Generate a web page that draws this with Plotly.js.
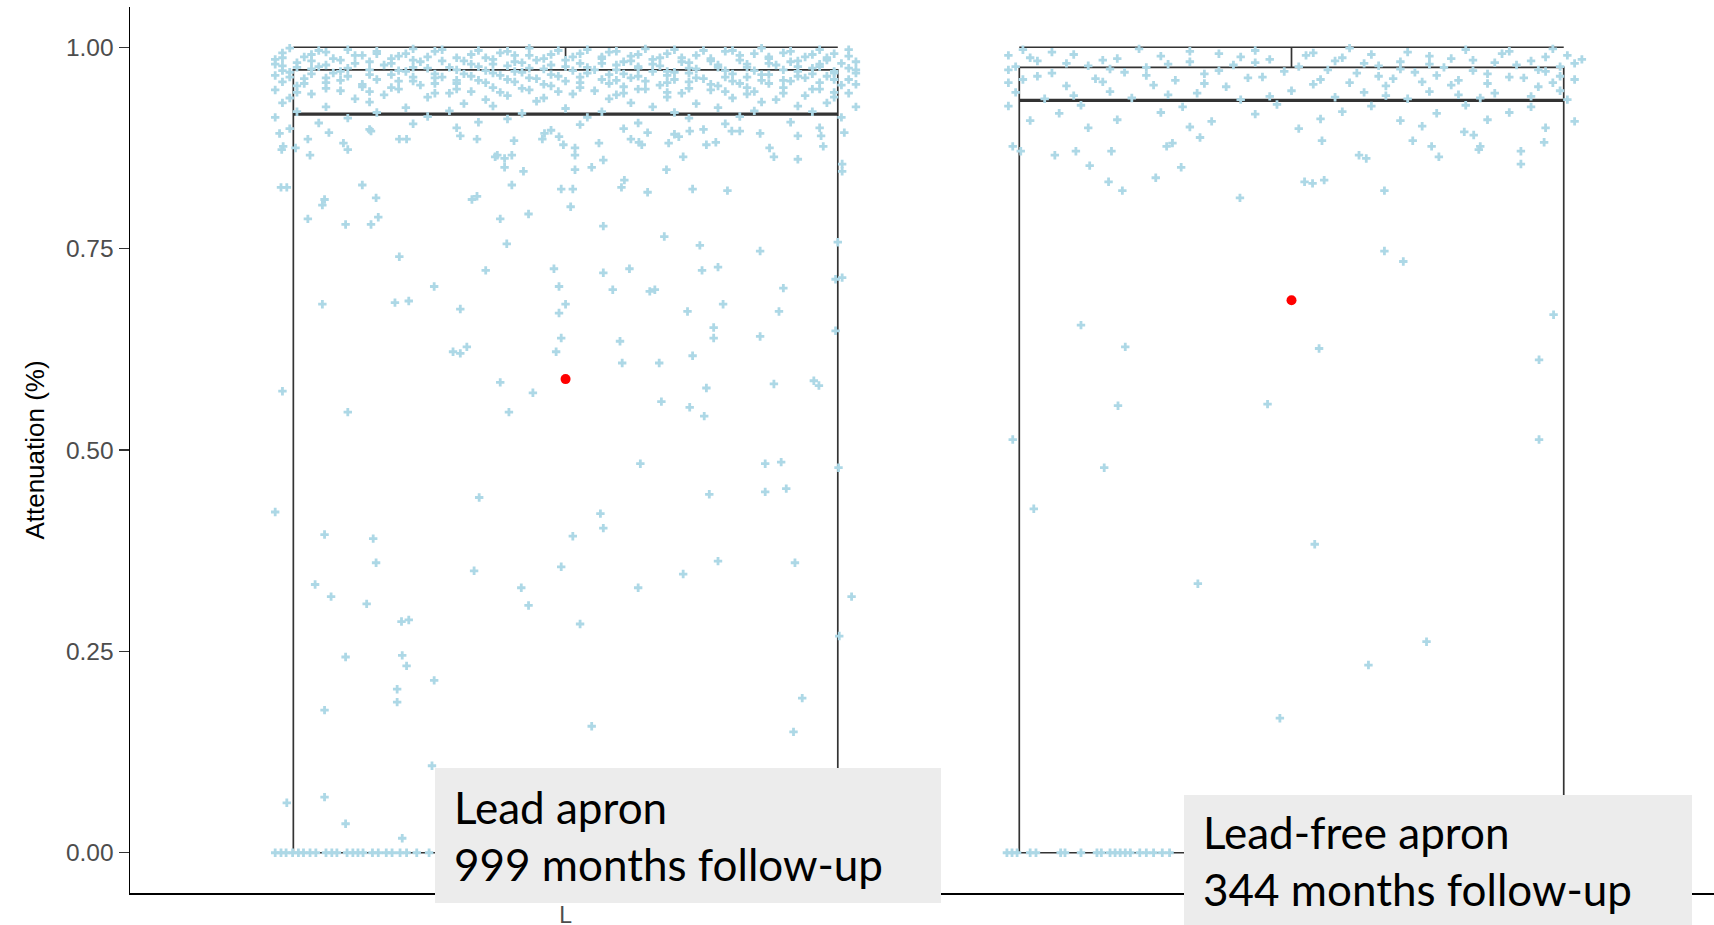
<!DOCTYPE html>
<html>
<head>
<meta charset="utf-8">
<script src="https://cdn.plot.ly/plotly-3.0.1.min.js"></script>
<style>
  html, body { margin: 0; padding: 0; background: #ffffff; }
  #chart { width: 1714px; height: 925px; }
</style>
</head>
<body>
<div id="chart"></div>
<script>
// ---------------- DATA ----------------
const categories = ["L", "LF"];
const visibleTickLabels = ["L", ""];   // the second category label is hidden behind its caption box
const positions = [1, 2];
const labels = ["Lead apron<br>999 months follow-up", "Lead-free apron<br>344 months follow-up"];

// box statistics
const q1 = [0.0, 0.0];
const medians = [0.917, 0.934];
const q3 = [0.972, 0.975];
const lowerWhisker = [0.0, 0.0];
const upperWhisker = [1.0, 1.0];
const means = [0.588, 0.686];

// jittered observations, group L : horizontal jitter offset and attenuation value
const L_jitter = [
  -0.38,-0.30,-0.21,-0.12,-0.05,0.03,0.11,0.19,0.27,0.35,
  -0.39,-0.33,-0.26,-0.18,-0.09,-0.02,0.06,0.14,0.22,0.30,0.37,
  -0.36,-0.28,-0.23,-0.15,-0.07,0.01,0.09,0.16,0.24,0.33,0.39,
  -0.40,-0.31,-0.24,-0.17,-0.10,-0.04,0.05,0.12,0.20,0.28,0.36,
  -0.37,-0.29,-0.20,-0.13,-0.06,0.02,0.08,0.17,0.25,0.31,0.38,
  -0.39,-0.34,-0.25,-0.16,-0.08,0.00,0.07,0.13,0.21,0.29,0.35,
  -0.35,-0.27,-0.19,-0.11,-0.03,0.04,0.10,0.18,0.26,0.34,0.40,
  -0.38,-0.32,-0.22,-0.14,-0.06,0.03,0.12,0.15,0.23,0.32,0.37,
  -0.40,-0.30,-0.24,-0.17,-0.09,-0.01,0.06,0.14,0.22,0.28,0.36,
  -0.36,-0.26,-0.18,-0.12,-0.04,0.05,0.09,0.19,0.27,0.33,0.39,
  -0.39,-0.33,-0.21,-0.15,-0.07,0.02,0.11,0.17,0.24,0.31,
  -0.37,-0.28,-0.20,-0.10,-0.02,0.08,0.13,0.21,0.30,0.38,
  -0.40,-0.31,-0.23,-0.13,-0.05,0.04,0.10,0.20,0.26,0.35,
  -0.35,-0.25,-0.16,-0.08,0.01,0.07,0.16,0.25,0.33,0.39,
  -0.38,-0.29,-0.19,-0.11,-0.03,0.06,0.14,0.23,0.29,0.37,
  -0.39,-0.27,-0.14,-0.04,0.09,0.18,0.27,0.36,
  -0.33,-0.22,-0.10,0.00,0.12,0.21,0.32,0.40,
  -0.37,-0.26,-0.16,-0.06,0.05,0.15,0.26,0.34,
  -0.40,-0.30,-0.19,-0.08,0.03,0.17,0.24,0.38,
  -0.34,-0.21,-0.12,0.02,0.10,0.22,0.31,
  -0.38,-0.27,-0.15,-0.02,0.08,0.19,0.35,
  -0.34,-0.26,-0.17,-0.08,-0.01,0.07,0.15,0.23,0.31,0.39,
  -0.35,-0.29,-0.22,-0.13,-0.05,0.02,0.10,0.18,0.26,0.34,
  -0.39,-0.32,-0.19,-0.11,-0.03,0.05,0.13,0.20,0.28,0.36,
  -0.35,-0.27,-0.21,-0.14,-0.07,0.00,0.09,0.16,0.24,0.32,0.40,
  -0.40,-0.33,-0.24,-0.10,-0.02,0.05,0.12,0.21,0.28,0.35,
  -0.37,-0.30,-0.21,-0.12,-0.05,0.03,0.10,0.17,0.25,0.32,0.39,
  -0.39,-0.31,-0.23,-0.15,-0.07,0.01,0.07,0.14,0.22,0.30,0.37,
  -0.35,-0.27,-0.18,-0.10,-0.02,0.08,0.17,0.27,0.34,0.40,
  -0.38,-0.33,-0.21,-0.13,-0.05,0.02,0.10,0.18,0.25,0.32,
  -0.31,-0.23,-0.15,-0.08,0.00,0.07,0.15,0.23,0.30,0.37,
  -0.36,-0.28,-0.18,-0.11,-0.03,0.06,0.14,0.20,0.28,0.35,0.40,
  -0.33,-0.24,-0.15,-0.06,0.02,0.11,0.17,0.25,0.34,
  -0.37,-0.27,-0.18,-0.09,-0.01,0.08,0.14,0.22,0.30,0.37,
  -0.394,-0.355,-0.326,-0.306,-0.300,-0.268,-0.229,-0.219,-0.145,-0.122,
  -0.071,-0.032,-0.029,-0.009,-0.003,0.013,0.046,0.090,0.101,0.105,
  0.113,0.142,0.150,0.156,0.171,0.194,0.207,0.229,0.240,0.268,
  0.281,0.287,0.320,0.320,0.352,0.355,0.381,0.381,0.384,-0.389,
  -0.391,-0.372,-0.352,-0.097,-0.094,-0.084,-0.074,-0.084,-0.058,0.013,
  0.013,0.036,0.052,0.139,0.162,
  -0.392,-0.384,-0.280,-0.332,-0.335,-0.261,-0.129,-0.122,-0.074,-0.006,
  0.010,0.007,0.081,0.077,0.113,0.175,0.223,-0.355,-0.303,-0.268,
  -0.258,-0.090,-0.051,0.052,0.136,0.185,0.268,-0.081,-0.229,0.375,
  -0.110,-0.016,0.052,0.088,0.188,0.210,0.372,0.381,-0.181,-0.009,
  0.065,0.116,0.123,0.300,-0.335,-0.235,-0.216,-0.145,0.000,-0.009,
  0.168,0.217,0.294,0.204,0.204,0.268,0.372,-0.006,0.075,-0.155,
  -0.145,-0.136,-0.013,0.078,0.129,0.175,-0.090,-0.045,0.194,0.287,
  0.342,0.349,-0.390,-0.300,-0.078,0.132,0.171,0.191,0.103,0.275,
  0.297,0.376,-0.119,0.198,0.275,0.304,-0.400,0.048,0.052,
  -0.332,-0.265,-0.261,0.010,-0.126,-0.006,0.162,0.210,0.316,-0.345,
  -0.323,-0.274,-0.061,-0.051,0.100,0.394,-0.226,-0.216,0.020,0.377,
  -0.303,-0.225,-0.219,-0.181,-0.232,-0.232,-0.332,0.326,0.036,0.314,
  -0.184,-0.384,-0.332,-0.303,-0.225,
  -0.400,-0.392,-0.385,-0.376,-0.368,-0.361,-0.352,-0.344,-0.330,-0.322,
  -0.315,-0.301,-0.293,-0.286,-0.279,-0.266,-0.258,-0.247,-0.239,-0.228,
  -0.219,-0.205,-0.188,-0.172,-0.150,-0.131,-0.104,-0.080,-0.052,-0.031,
  0.004,0.027,0.061,0.093,0.118,0.146,0.177,0.203,0.238,0.264,
  0.291,0.322,0.357,0.389
];
const L_value = [
  0.999,0.997,0.998,0.996,0.999,0.997,0.998,0.996,0.999,0.997,
  0.993,0.994,0.992,0.995,0.993,0.991,0.994,0.992,0.995,0.993,0.992,
  0.988,0.990,0.989,0.987,0.990,0.988,0.989,0.987,0.990,0.988,0.989,
  0.985,0.984,0.986,0.983,0.985,0.984,0.986,0.985,0.983,0.986,0.984,
  0.981,0.980,0.982,0.979,0.981,0.980,0.982,0.981,0.979,0.982,0.980,
  0.977,0.976,0.978,0.975,0.977,0.976,0.978,0.977,0.975,0.978,0.976,
  0.973,0.972,0.974,0.971,0.973,0.972,0.974,0.973,0.971,0.974,0.972,
  0.969,0.968,0.970,0.967,0.969,0.968,0.970,0.969,0.967,0.970,0.968,
  0.965,0.964,0.966,0.963,0.965,0.964,0.966,0.965,0.963,0.966,0.964,
  0.961,0.960,0.962,0.959,0.961,0.960,0.962,0.961,0.959,0.962,0.960,
  0.957,0.956,0.958,0.955,0.957,0.956,0.958,0.957,0.955,0.958,
  0.952,0.951,0.953,0.950,0.952,0.951,0.953,0.952,0.950,0.953,
  0.947,0.946,0.948,0.945,0.947,0.946,0.948,0.947,0.945,0.948,
  0.942,0.941,0.943,0.940,0.942,0.941,0.943,0.942,0.940,0.943,
  0.937,0.936,0.938,0.935,0.937,0.936,0.938,0.937,0.935,0.938,
  0.931,0.932,0.930,0.933,0.931,0.930,0.932,0.931,
  0.926,0.925,0.927,0.924,0.926,0.925,0.927,0.926,
  0.920,0.919,0.921,0.918,0.920,0.919,0.921,0.920,
  0.913,0.912,0.914,0.911,0.913,0.912,0.914,0.913,
  0.906,0.905,0.907,0.904,0.906,0.905,0.907,
  0.899,0.898,0.900,0.897,0.899,0.898,0.900,
  0.996,0.995,0.997,0.995,0.996,0.995,0.997,0.996,0.995,0.997,
  0.991,0.990,0.992,0.991,0.990,0.992,0.991,0.990,0.992,0.991,
  0.987,0.986,0.988,0.987,0.986,0.988,0.987,0.986,0.988,0.987,
  0.983,0.982,0.984,0.983,0.982,0.984,0.983,0.982,0.984,0.983,0.982,
  0.979,0.978,0.980,0.979,0.978,0.980,0.979,0.978,0.980,0.979,
  0.975,0.974,0.975,0.976,0.974,0.975,0.976,0.974,0.975,0.976,0.974,
  0.971,0.970,0.971,0.972,0.970,0.971,0.972,0.970,0.971,0.972,0.970,
  0.967,0.966,0.967,0.968,0.966,0.967,0.968,0.966,0.967,0.968,
  0.963,0.962,0.963,0.964,0.962,0.963,0.964,0.962,0.963,0.964,
  0.959,0.958,0.959,0.960,0.958,0.959,0.960,0.958,0.959,0.960,
  0.955,0.954,0.955,0.956,0.954,0.955,0.956,0.954,0.955,0.956,0.954,
  0.949,0.950,0.948,0.949,0.950,0.948,0.949,0.950,0.948,
  0.944,0.945,0.943,0.944,0.945,0.943,0.944,0.945,0.943,0.944,
  0.893,0.886,0.894,0.881,0.873,0.896,0.886,0.886,0.890,0.886,
  0.884,0.886,0.893,0.889,0.879,0.875,0.881,0.886,0.882,0.879,
  0.894,0.881,0.892,0.889,0.896,0.879,0.882,0.896,0.896,0.893,
  0.875,0.864,0.890,0.861,0.890,0.877,0.855,0.846,0.894,0.877,
  0.873,0.875,0.866,0.864,0.866,0.862,0.866,0.851,0.846,0.866,
  0.848,0.851,0.860,0.848,0.864,
  0.826,0.826,0.829,0.811,0.804,0.813,0.811,0.815,0.829,0.824,
  0.824,0.802,0.835,0.826,0.820,0.824,0.822,0.787,0.780,0.780,
  0.789,0.787,0.793,0.778,0.765,0.754,0.747,0.756,0.740,0.758,
  0.723,0.725,0.720,0.725,0.723,0.727,0.712,0.714,0.703,0.703,
  0.699,0.697,0.699,0.701,0.681,0.683,0.685,0.675,0.681,0.670,
  0.672,0.681,0.672,0.652,0.639,0.641,0.648,0.639,0.635,0.622,
  0.620,0.628,0.622,0.608,0.608,0.617,0.584,0.571,0.577,0.582,
  0.586,0.580,0.573,0.547,0.547,0.560,0.553,0.542,0.483,0.483,
  0.485,0.478,0.441,0.445,0.448,0.452,0.423,0.421,0.403,
  0.395,0.390,0.360,0.393,0.350,0.355,0.346,0.362,0.360,0.333,
  0.318,0.309,0.329,0.307,0.329,0.318,0.287,0.289,0.284,0.269,
  0.243,0.245,0.232,0.214,0.203,0.187,0.177,0.192,0.157,0.150,
  0.108,0.062,0.069,0.036,0.018,
  0,0,0,0,0,0,0,0,0,0,
  0,0,0,0,0,0,0,0,0,0,
  0,0,0,0,0,0,0,0,0,0,
  0,0,0,0,0,0,0,0,0,0,
  0,0,0,0
];

// jittered observations, group LF
const LF_jitter = [
  -0.37,-0.21,-0.05,0.08,0.24,0.36,
  -0.39,-0.30,-0.18,-0.10,0.02,0.11,0.19,0.29,0.38,
  -0.35,-0.26,-0.14,-0.03,0.06,0.15,0.25,0.33,0.40,
  -0.38,-0.28,-0.20,-0.08,0.01,0.12,0.21,0.31,0.37,
  -0.33,-0.23,-0.12,-0.01,0.09,0.17,0.27,0.35,
  -0.37,-0.27,-0.16,-0.06,0.04,0.14,0.23,0.32,0.39,
  -0.31,-0.19,-0.09,0.03,0.13,0.22,0.34,
  -0.38,-0.25,-0.13,0.00,0.10,0.19,0.28,0.37,
  -0.34,-0.22,-0.07,0.06,0.16,0.26,0.38,
  -0.39,-0.29,-0.15,-0.02,0.11,0.24,0.33,
  -0.32,-0.18,-0.05,0.07,0.20,0.30,
  -0.36,-0.24,-0.11,0.04,0.15,0.27,0.39,
  -0.28,-0.14,0.01,0.18,0.35,
  -0.33,-0.14,0.03,0.16,0.30,
  -0.36,-0.24,-0.07,0.07,0.22,0.35,
  -0.31,-0.17,-0.05,0.10,0.19,0.28,0.39,
  -0.39,-0.25,-0.10,0.05,0.15,0.25,0.34,
  -0.35,-0.20,-0.04,0.12,0.20,0.30,0.37,
  -0.39,-0.26,-0.12,0.08,0.18,0.27,0.36,
  -0.30,-0.17,-0.03,0.13,0.23,0.33,
  -0.384,-0.373,-0.326,-0.297,-0.248,-0.278,-0.252,-0.233,-0.187,-0.172,
  -0.164,-0.152,-0.126,-0.071,0.018,0.029,0.045,0.042,0.093,0.103,
  0.128,0.167,0.193,0.203,0.238,0.251,0.260,0.258,0.316,0.316,
  0.348,0.128,0.154,0.361,-0.290,-0.229,0.038,0.341,-0.239,-0.033,
  -0.384,0.341,-0.258,-0.355,0.032,-0.129,0.186,0.106,-0.016,
  -0.392,-0.385,-0.378,-0.360,-0.352,-0.318,-0.312,-0.290,-0.268,-0.262,
  -0.250,-0.243,-0.236,-0.229,-0.222,-0.209,-0.200,-0.190,-0.178,-0.168,
  -0.120,-0.050,0.040,0.130,0.220,0.300
];
const LF_value = [
  0.997,0.998,0.996,0.999,0.997,0.998,
  0.990,0.991,0.989,0.992,0.990,0.991,0.989,0.992,0.990,
  0.983,0.984,0.982,0.985,0.983,0.982,0.984,0.983,0.985,
  0.976,0.977,0.975,0.978,0.976,0.977,0.975,0.978,0.976,
  0.968,0.969,0.967,0.970,0.968,0.969,0.967,0.970,
  0.960,0.961,0.959,0.962,0.960,0.961,0.959,0.962,0.960,
  0.952,0.953,0.951,0.954,0.952,0.953,0.951,
  0.944,0.945,0.943,0.946,0.944,0.945,0.943,0.946,
  0.936,0.937,0.935,0.938,0.936,0.937,0.935,
  0.927,0.928,0.926,0.929,0.927,0.928,0.926,
  0.918,0.919,0.917,0.920,0.918,0.919,
  0.909,0.910,0.908,0.911,0.909,0.910,0.908,
  0.900,0.901,0.899,0.902,0.900,
  0.994,0.995,0.993,0.994,0.995,
  0.987,0.986,0.988,0.987,0.986,0.988,
  0.980,0.979,0.981,0.980,0.979,0.981,0.980,
  0.972,0.973,0.971,0.972,0.973,0.971,0.972,
  0.964,0.965,0.963,0.964,0.965,0.963,0.964,
  0.956,0.957,0.955,0.956,0.957,0.955,0.956,
  0.940,0.941,0.939,0.940,0.941,0.939,
  0.877,0.871,0.866,0.871,0.871,0.853,0.833,0.822,0.838,0.877,
  0.881,0.851,0.888,0.813,0.833,0.831,0.835,0.884,0.866,0.862,
  0.822,0.884,0.877,0.864,0.895,0.891,0.877,0.873,0.871,0.855,
  0.882,0.747,0.734,0.668,0.655,0.628,0.626,0.612,0.555,0.557,
  0.513,0.513,0.478,0.427,0.383,0.334,0.262,0.233,0.167,
  0,0,0,0,0,0,0,0,0,0,
  0,0,0,0,0,0,0,0,0,0,
  0,0,0,0,0,0
];

// ---------------- DRAWING ----------------
const BOX_WIDTH = 0.75;
const pointSets = [[L_jitter, L_value], [LF_jitter, LF_value]];

const traces = [];

traces.push({
  type: 'box',
  x: positions,
  q1: q1, median: medians, q3: q3,
  lowerfence: lowerWhisker, upperfence: upperWhisker,
  width: BOX_WIDTH,
  whiskerwidth: 1,
  boxpoints: false,
  fillcolor: 'rgba(0,0,0,0)',
  line: { color: '#333333', width: 1.7 },
  hoverinfo: 'skip',
  showlegend: false
});

// thicker median lines (ggplot style)
positions.forEach((p, i) => {
  traces.push({
    type: 'scatter', mode: 'lines',
    x: [p - BOX_WIDTH / 2, p + BOX_WIDTH / 2],
    y: [medians[i], medians[i]],
    line: { color: '#333333', width: 3.2 },
    hoverinfo: 'skip', showlegend: false
  });
});

// jittered points
pointSets.forEach((set, i) => {
  traces.push({
    type: 'scatter', mode: 'markers',
    x: set[0].map(d => positions[i] + d),
    y: set[1],
    marker: { symbol: 'cross', size: 7, color: '#ADD8E6', line: { width: 0 } },
    hoverinfo: 'skip', showlegend: false
  });
});

// means
traces.push({
  type: 'scatter', mode: 'markers',
  x: positions, y: means,
  marker: { symbol: 'circle', size: 10, color: '#FF0000', line: { width: 0 } },
  hoverinfo: 'skip', showlegend: false
});

const PL = 130, PT = 7, PW = 1584, PH = 886;
const px = v => (v - PL) / PW;
const py = v => (PT + PH - v) / PH;

const layout = {
  width: 1714, height: 925,
  margin: { l: PL, r: 1714 - PL - PW, t: PT, b: 925 - PT - PH, pad: 0 },
  paper_bgcolor: '#ffffff', plot_bgcolor: '#ffffff',
  showlegend: false,
  font: { family: 'Liberation Sans, Arial, sans-serif', color: '#4d4d4d' },
  xaxis: {
    range: [0.4, 2.582],
    tickvals: positions, ticktext: visibleTickLabels,
    showgrid: false, zeroline: false,
    showline: true, linecolor: '#000000', linewidth: 1.5,
    ticks: 'outside', ticklen: 1, tickwidth: 1.5, tickcolor: '#333333',
    tickfont: { family: 'Liberation Sans, Arial, sans-serif', size: 23, color: '#4d4d4d' },
    automargin: false, fixedrange: true
  },
  yaxis: {
    range: [-0.05, 1.05],
    tickvals: [0, 0.25, 0.5, 0.75, 1.0],
    ticktext: ['0.00', '0.25', '0.50', '0.75', '1.00'],
    showgrid: false, zeroline: false,
    showline: true, linecolor: '#000000', linewidth: 1.5,
    ticks: 'outside', ticklen: 10, tickwidth: 1.5, tickcolor: '#333333',
    tickfont: { family: 'Liberation Sans, Arial, sans-serif', size: 24.5, color: '#4d4d4d' },
    title: { text: 'Attenuation (%)', standoff: 14,
             font: { family: 'Liberation Sans, Arial, sans-serif', size: 26, color: '#000000' } },
    automargin: false, fixedrange: true
  },
  shapes: [
    { type: 'rect', xref: 'paper', yref: 'paper', layer: 'above',
      x0: px(435), x1: px(941), y0: py(903), y1: py(768),
      fillcolor: '#ececec', line: { width: 0 } },
    { type: 'rect', xref: 'paper', yref: 'paper', layer: 'above',
      x0: px(1184), x1: px(1692), y0: py(935), y1: py(795),
      fillcolor: '#ececec', line: { width: 0 } }
  ],
  annotations: [
    { xref: 'paper', yref: 'paper', x: px(452), y: py(835),
      xanchor: 'left', yanchor: 'middle', align: 'left', showarrow: false,
      text: labels[0],
      font: { family: 'Lato, Carlito, Calibri, sans-serif', size: 44, color: '#000000' } },
    { xref: 'paper', yref: 'paper', x: px(1201), y: py(860),
      xanchor: 'left', yanchor: 'middle', align: 'left', showarrow: false,
      text: labels[1],
      font: { family: 'Lato, Carlito, Calibri, sans-serif', size: 44, color: '#000000' } }
  ]
};

Plotly.newPlot('chart', traces, layout, { displayModeBar: false, staticPlot: true });
</script>
</body>
</html>
